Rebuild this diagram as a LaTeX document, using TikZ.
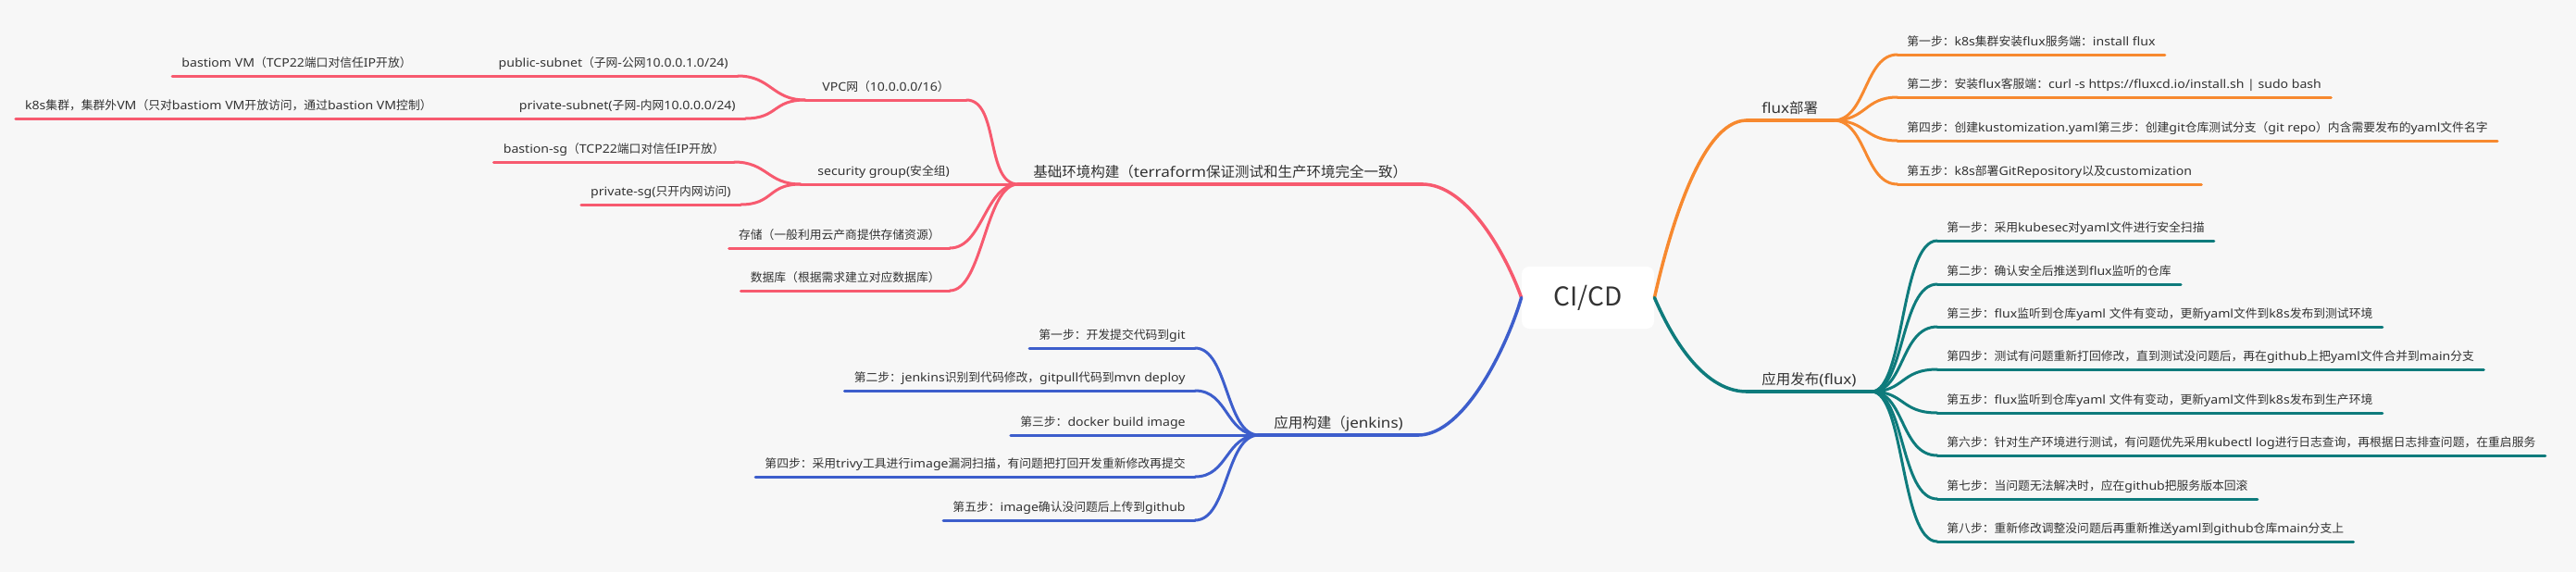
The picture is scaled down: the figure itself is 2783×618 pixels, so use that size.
\documentclass[tikz,border=0pt]{standalone}
\usepackage{fontspec}
\newfontfamily\cjk{Noto Sans CJK SC}
\newfontfamily\latinf[FakeStretch=1.1]{Noto Sans}
\newcount\cjkcnt
\XeTeXinterchartokenstate=1
\newXeTeXintercharclass\CJKcls
\def\setcjkrange#1#2{\cjkcnt=#1\relax
  \loop\XeTeXcharclass\cjkcnt=\CJKcls\advance\cjkcnt by 1\relax\ifnum\cjkcnt<#2\repeat}
\setcjkrange{"3000}{"3040}
\setcjkrange{"4E00}{"A000}
\setcjkrange{"FF00}{"FFF0}
\XeTeXinterchartoks 0 \CJKcls = {\cjk}
\XeTeXinterchartoks 4095 \CJKcls = {\cjk}
\XeTeXinterchartoks \CJKcls 0 = {\latinf}
\definecolor{bg}{HTML}{F7F7F7}
\definecolor{cred}{HTML}{F75A6F}
\definecolor{corange}{HTML}{F7892F}
\definecolor{cteal}{HTML}{0E7B7C}
\definecolor{cblue}{HTML}{3D5ECC}
\definecolor{ink}{HTML}{333333}
\begin{document}
\begin{tikzpicture}[x=0.5pt,y=-0.5pt,
  leaf/.style={font=\latinf\fontsize{6.4pt}{7pt}\selectfont, text=ink, inner xsep=5pt, inner ysep=3.5pt, text height=5.3pt, text depth=0.95pt},
  mid/.style={leaf, inner xsep=9pt},
  mainn/.style={font=\latinf\fontsize{7.75pt}{9pt}\selectfont, text=ink, inner xsep=8pt, inner ysep=2.5pt, text height=6.6pt, text depth=1.15pt},
  rootn/.style={font=\cjk\fontsize{14pt}{16pt}\selectfont, text=ink, fill=white, rounded corners=4pt, minimum width=71.5pt, minimum height=33.5pt, inner sep=0pt},
  rl/.style={draw=cred, line width=1.5pt, line cap=round},
  ol/.style={draw=corange, line width=1.5pt, line cap=round},
  tl/.style={draw=cteal, line width=1.5pt, line cap=round},
  bl/.style={draw=cblue, line width=1.5pt, line cap=round},
  thick/.style={line width=1.75pt}]
\fill[bg] (0,0) rectangle (2783,618);
\useasboundingbox (0,0) rectangle (2783,618);

% root
\node[rootn] (root) at (1715.5,321.5) {CI/CD};

% orange branch
\node[mainn, anchor=south west] (flux) at (1887,130) {flux部署};
\node[leaf, anchor=south west] (f1) at (2050,59) {第一步：k8s集群安装flux服务端：install flux};
\node[leaf, anchor=south west] (f2) at (2050,105) {第二步：安装flux客服端：curl -s https://fluxcd.io/install.sh | sudo bash};
\node[leaf, anchor=south west] (f3) at (2050,152) {第四步：创建kustomization.yaml第三步：创建git仓库测试分支（git repo）内含需要发布的yaml文件名字};
\node[leaf, anchor=south west] (f4) at (2050,199) {第五步：k8s部署GitRepository以及customization};

% teal branch
\node[mainn, anchor=south west] (rel) at (1887,423) {应用发布(flux)};
\node[leaf, anchor=south west] (t1) at (2093,260) {第一步：采用kubesec对yaml文件进行安全扫描};
\node[leaf, anchor=south west] (t2) at (2093,307) {第二步：确认安全后推送到flux监听的仓库};
\node[leaf, anchor=south west] (t3) at (2093,353) {第三步：flux监听到仓库yaml 文件有变动，更新yaml文件到k8s发布到测试环境};
\node[leaf, anchor=south west] (t4) at (2093,399) {第四步：测试有问题重新打回修改，直到测试没问题后，再在github上把yaml文件合并到main分支};
\node[leaf, anchor=south west] (t5) at (2093,446) {第五步：flux监听到仓库yaml 文件有变动，更新yaml文件到k8s发布到生产环境};
\node[leaf, anchor=south west] (t6) at (2093,492) {第六步：针对生产环境进行测试，有问题优先采用kubectl log进行日志查询，再根据日志排查问题，在重启服务};
\node[leaf, anchor=south west] (t7) at (2093,539) {第七步：当问题无法解决时，应在github把服务版本回滚};
\node[leaf, anchor=south west] (t8) at (2093,585) {第八步：重新修改调整没问题后再重新推送yaml到github仓库main分支上};

% red branch
\node[mainn, anchor=south west] (base) at (1100,199) {基础环境构建（terraform保证测试和生产环境完全一致）};
\node[mid, anchor=south west] (vpc) at (870,108) {VPC网（10.0.0.0/16）};
\node[mid, anchor=south west] (sg) at (865,199) {security group(安全组)};
\node[leaf, anchor=south east] (pub) at (797,82) {public-subnet（子网-公网10.0.0.1.0/24)};
\node[leaf, anchor=south east] (pri) at (805,128) {private-subnet(子网-内网10.0.0.0/24)};
\node[leaf, anchor=south east] (bas) at (455,82) {bastiom VM（TCP22端口对信任IP开放）};
\node[leaf, anchor=south east] (k8s) at (477,128) {k8s集群，集群外VM（只对bastiom VM开放访问，通过bastion VM控制）};
\node[leaf, anchor=south east] (bsg) at (793,175) {bastion-sg（TCP22端口对信任IP开放）};
\node[leaf, anchor=south east] (psg) at (800,221) {private-sg(只开内网访问)};
\node[leaf, anchor=south east] (sto) at (1026,268) {存储（一般利用云产商提供存储资源）};
\node[leaf, anchor=south east] (db) at (1026,314) {数据库（根据需求建立对应数据库）};

% blue branch
\node[mainn, anchor=south west] (jen) at (1360,470) {应用构建（jenkins)};
\node[leaf, anchor=south east] (j1) at (1291,376) {第一步：开发提交代码到git};
\node[leaf, anchor=south east] (j2) at (1291,422) {第二步：jenkins识别到代码修改，gitpull代码到mvn deploy};
\node[leaf, anchor=south east] (j3) at (1291,470) {第三步：docker build image};
\node[leaf, anchor=south east] (j4) at (1291,515) {第四步：采用trivy工具进行image漏洞扫描，有问题把打回开发重新修改再提交};
\node[leaf, anchor=south east] (j5) at (1291,562) {第五步：image确认没问题后上传到github};

% underlines
\foreach \n in {f1,f2,f3,f4} \draw[ol] (\n.south west) -- (\n.south east);
\draw[ol,thick] (flux.south west) -- (flux.south east);
\foreach \n in {t1,t2,t3,t4,t5,t6,t7,t8} \draw[tl] (\n.south west) -- (\n.south east);
\draw[tl,thick] (rel.south west) -- (rel.south east);
\foreach \n in {vpc,sg,pub,pri,bas,k8s,bsg,psg,sto,db} \draw[rl] (\n.south west) -- (\n.south east);
\draw[rl,thick] (base.south west) -- (base.south east);
\foreach \n in {j1,j2,j3,j4,j5} \draw[bl] (\n.south west) -- (\n.south east);
\draw[bl,thick] (jen.south west) -- (jen.south east);

% connectors from root
\draw[rl,thick] (root.west) .. controls +(-15,-43) and +(50,0) .. (base.south east);
\draw[bl,thick] (root.west) .. controls +(-15,52) and +(50,0) .. (jen.south east);
\draw[ol,thick] (root.east) .. controls +(15,-67) and +(-50,0) .. (flux.south west);
\draw[tl,thick] (root.east) .. controls +(15,35) and +(-50,0) .. (rel.south west);

% orange fan
\foreach \n in {f1,f2,f3,f4}
  \draw[ol] (flux.south east) .. controls +(36,0) and +(-36,0) .. (\n.south west);
% teal fan
\foreach \n in {t1,t2,t3,t4,t5,t6,t7,t8}
  \draw[tl] (rel.south east) .. controls +(36,0) and +(-40,0) .. (\n.south west);
% red
\draw[rl] (sg.south east) -- (base.south west);
\foreach \n in {vpc,sto,db}
  \draw[rl] (\n.south east) .. controls +(36,0) and +(-36,0) .. (base.south west);
\foreach \n in {pub,pri}
  \draw[rl] (\n.south east) .. controls +(36,0) and +(-36,0) .. (vpc.south west);
\foreach \n in {bsg,psg}
  \draw[rl] (\n.south east) .. controls +(36,0) and +(-36,0) .. (sg.south west);
\draw[rl] (bas.south east) -- (pub.south west);
\draw[rl] (k8s.south east) -- (pri.south west);
% blue fan
\foreach \n in {j1,j2,j3,j4,j5}
  \draw[bl] (\n.south east) .. controls +(36,0) and +(-36,0) .. (jen.south west);
\end{tikzpicture}
\end{document}
